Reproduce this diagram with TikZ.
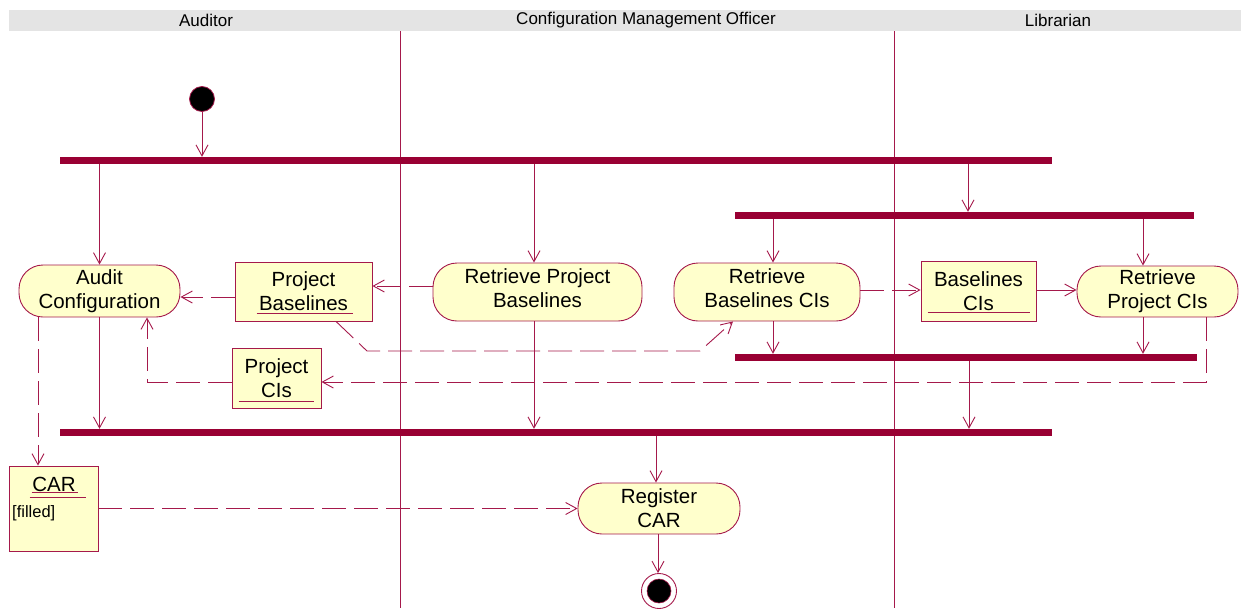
\documentclass[tikz,border=0pt]{standalone}
\usepackage{fontspec}
\setmainfont{Liberation Sans}
\usetikzlibrary{arrows.meta,calc}
\definecolor{rosered}{RGB}{153,0,51}
\definecolor{roseline}{RGB}{165,25,75}
\definecolor{paleyellow}{RGB}{255,255,204}
\definecolor{laneband}{RGB}{228,228,228}

\begin{document}
\begin{tikzpicture}[x=1pt,y=-1pt,
  lbl/.style={font=\fontsize{20.5}{24}\selectfont, align=center, text=black},
  activity/.style={lbl, draw=roseline, fill=paleyellow, line width=0.9pt,
    rounded corners=24pt, inner sep=0pt},
  raisedtext/.style={label={[lbl, inner sep=0pt, yshift=4pt]center:#1}},
  objectbox/.style={lbl, draw=roseline, fill=paleyellow, line width=0.9pt,
    rectangle, inner sep=0pt},
  syncbar/.style={rectangle, fill=rosered, draw=none, inner sep=0pt, minimum height=7pt},
  lanetitle/.style={font=\fontsize{17}{19}\selectfont, text=black, inner sep=0pt},
  flow/.style={draw=roseline, line width=0.9pt,
    -{Straight Barb[length=11pt,width=12pt,line width=0.9pt]}},
  objflow/.style={flow, dash pattern=on 24pt off 8pt},
  lane/.style={draw=roseline, line width=1.1pt},
  uline/.style={draw=roseline, line width=0.9pt}
]
\useasboundingbox (0,0) rectangle (1241,608);

% swimlane header band and titles
\fill[laneband] (9,10) rectangle (1241,31);
\node[lanetitle] (auditorlane) at (206,20) {Auditor};
\node[lanetitle] (cmolane) at (646,20) {Configuration Management Officer};
\node[lanetitle] (librarianlane) at (1058,20) {Librarian};

% swimlane separators
\coordinate (laneAtop) at (400.5,31);
\coordinate (laneAbot) at (400.5,608);
\coordinate (laneBtop) at (894.5,31);
\coordinate (laneBbot) at (894.5,608);
\draw[lane] (laneAtop) -- (laneAbot);
\draw[lane] (laneBtop) -- (laneBbot);

% initial and final states
\node[circle, fill=black, draw=roseline, line width=0.8pt, minimum size=25pt, inner sep=0pt] (start) at (202,99) {};
\node[circle, fill=white, draw=roseline, line width=0.9pt, minimum size=35pt, inner sep=0pt] (finish) at (659,591) {};
\node[circle, fill=black, draw=roseline, line width=0.6pt, minimum size=24pt, inner sep=0pt] (finishdot) at (finish) {};

% synchronisation bars
\node[syncbar, minimum width=992pt] (bar1) at (556,160.5) {};
\node[syncbar, minimum width=459pt] (bar2) at (964.5,215.5) {};
\node[syncbar, minimum width=462pt] (bar3) at (966,357.5) {};
\node[syncbar, minimum width=992pt] (bar4) at (556,432.5) {};

% activities
\node[activity, minimum width=161pt, minimum height=52pt] (ac) at (99.5,291) {Audit\\Configuration};
\node[activity, minimum width=209pt, minimum height=58pt,
  raisedtext={Retrieve Project\\Baselines}] (rpb) at (537.5,292) {};
\node[activity, minimum width=186pt, minimum height=58pt,
  raisedtext={Retrieve\\Baselines CIs}] (rbc) at (767,292) {};
\node[activity, minimum width=161pt, minimum height=51pt] (rpc) at (1157.5,291.5) {Retrieve\\Project CIs};
\node[activity, minimum width=162pt, minimum height=51pt] (rcar) at (659,508.5) {Register\\CAR};

% objects carried by the object flows
\node[objectbox, minimum width=137pt, minimum height=59pt] (pb) at (303.5,291.5) {Project\\Baselines};
\node[objectbox, minimum width=89pt, minimum height=60pt] (pci) at (276.5,378) {Project\\CIs};
\node[objectbox, minimum width=115pt, minimum height=60pt] (bci) at (978.5,291) {Baselines\\CIs};
\node[objectbox, minimum width=89pt, minimum height=85pt] (car) at (53.5,508.5) {};
\node[lbl, inner sep=0pt, anchor=base] (carname) at (54,491) {CAR};
\node[inner sep=0pt, anchor=base west, font=\fontsize{16.5}{18}\selectfont] (carstate) at (12,517) {[filled]};

% object name underlines
\draw[uline] ($(pb.south west)+(22,-8.5)$) -- ($(pb.south east)+(-19,-8.5)$);
\draw[uline] ($(pci.south west)+(7,-7)$) -- ($(pci.south east)+(-7,-7)$);
\draw[uline] ($(bci.south west)+(7,-9)$) -- ($(bci.south east)+(-6,-9)$);
\draw[uline] ($(car.north west)+(23,27)$) -- ($(car.north west)+(69,27)$);
\draw[uline] ($(car.north west)+(21,32)$) -- ($(car.north west)+(77,32)$);

% control flows
\draw[flow] (start) -- (start |- bar1.north);
\draw[flow] (ac.north |- bar1.south) -- (ac.north);
\draw[flow] ([xshift=-3.5pt]rpb.north |- bar1.south) -- ([xshift=-3.5pt]rpb.north);
\draw[flow] ([xshift=3.5pt]bar2.north |- bar1.south) -- ([xshift=3.5pt]bar2.north);
\draw[flow] ([xshift=6pt]rbc.north |- bar2.south) -- ([xshift=6pt]rbc.north);
\draw[flow] ([xshift=-14.5pt]rpc.north |- bar2.south) -- ([xshift=-14.5pt]rpc.north);
\draw[flow] ([xshift=6pt]rbc.south) -- ([xshift=6pt]rbc.south |- bar3.north);
\draw[flow] ([xshift=-14.5pt]rpc.south) -- ([xshift=-14.5pt]rpc.south |- bar3.north);
\draw[flow] ([xshift=3pt]bar3.south) -- ([xshift=3pt]bar3.south |- bar4.north);
\draw[flow] (ac.south) -- (ac.south |- bar4.north);
\draw[flow] ([xshift=-3.5pt]rpb.south) -- ([xshift=-3.5pt]rpb.south |- bar4.north);
\draw[flow] ([xshift=-3pt]rcar.north |- bar4.south) -- ([xshift=-3pt]rcar.north);
\draw[flow] ([xshift=-1pt]rcar.south) -- ([xshift=-1pt]finish.north);
\draw[flow] ($(bci.east)+(0,-1)$) -- ($(rpc.west)+(0,-1.5)$);

% object flows
\draw[objflow] ($(rpb.west)+(0,-6)$) -- ($(pb.east)+(0,-5.5)$);
\draw[objflow] ($(pb.west)+(0,5.5)$) -- ($(ac.east)+(0,6)$);
\coordinate (pbbendA) at (367,351);
\coordinate (pbbendB) at (700,351);
\draw[objflow] ($(pb.south)+(32.5,0)$) -- (pbbendA) -- (pbbendB) -- ($(rbc.south)+(-34,0)$);
\draw[objflow] ($(rbc.east)+(0,-2)$) -- ($(bci.west)+(0,-1)$);
\coordinate (rpcbend) at (1206,382);
\draw[objflow] ($(rpc.south)+(48.5,0)$) -- (rpcbend) -- (pci.east |- rpcbend);
\coordinate (pcibend) at (147,382);
\draw[objflow] (pci.west |- pcibend) -- (pcibend) -- (pcibend |- ac.south);
\draw[objflow] ([xshift=-15.5pt]car.north |- ac.south) -- ([xshift=-15.5pt]car.north);
\draw[objflow] (car.east) -- (rcar.west);
\end{tikzpicture}
\end{document}
